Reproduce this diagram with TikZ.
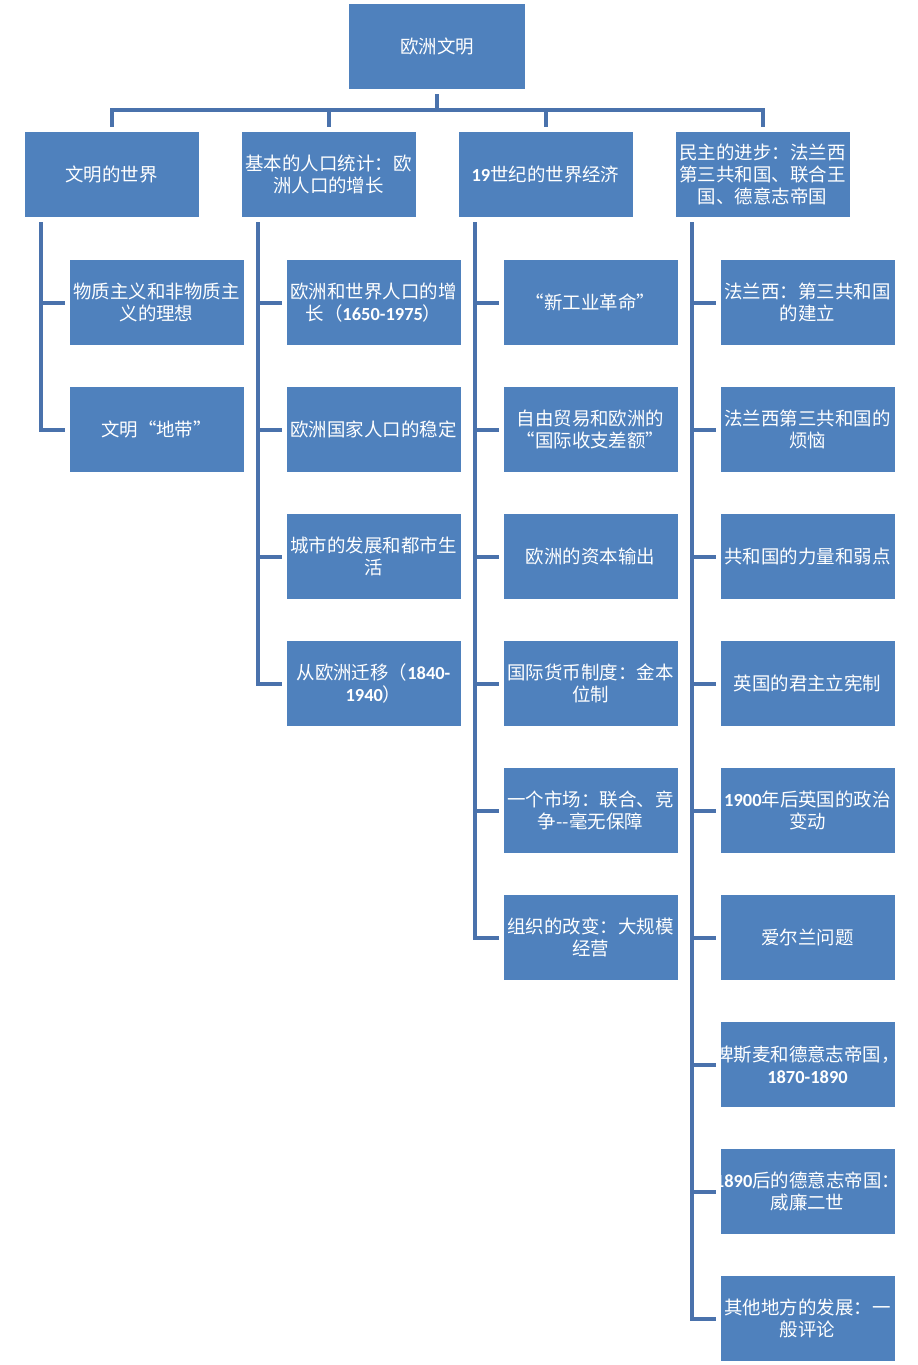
\documentclass[tikz,border=0pt]{standalone}
\usepackage{fontspec}
\setmainfont{Noto Sans CJK SC}
\newfontfamily\numfont{Carlito}
\usetikzlibrary{positioning}
\definecolor{BoxBlue}{HTML}{4F81BD}
\definecolor{LineBlue}{HTML}{4A72AC}
\newcommand{\yr}[1]{{\numfont\bfseries #1}}
\tikzset{
  topic/.style={
    fill=BoxBlue, text=white, inner sep=0pt, outer sep=0pt,
    minimum width=3.48cm, minimum height=1.7cm,
    text width=3.4cm, align=center,
    font=\fontsize{10.5pt}{12.5pt}\selectfont
  },
  link/.style={draw=LineBlue, line width=0.08cm, shorten <=0.1cm, shorten >=0.1cm}
}
\begin{document}
\begin{tikzpicture}[node distance=0.84cm]
  \useasboundingbox (0,0) rectangle (18.36,-27.3);
  \node[topic,minimum width=3.52cm] (root) at (8.74,-0.93) {欧洲文明};
  % first level
  \node[topic,below=0.86cm of root,xshift=-2.17cm] (p) {基本的人口统计：欧\\洲人口的增长};
  \node[topic,left=0.86cm of p] (w) {文明的世界};
  \node[topic,right=0.86cm of p] (e) {\yr{19}世纪的世界经济};
  \node[topic,right=0.86cm of e] (d) {民主的进步：法兰西\\第三共和国、联合王\\国、德意志帝国};
  \draw[link] (root.south) -- ++(0,-0.42) -| (w.north);
  \draw[link] (root.south) -- ++(0,-0.42) -| (p.north);
  \draw[link] (root.south) -- ++(0,-0.42) -| (e.north);
  \draw[link] (root.south) -- ++(0,-0.42) -| (d.north);
  % world
  \node[topic,below=0.86cm of w,xshift=0.9cm] (w1) {物质主义和非物质主\\义的理想};
  \node[topic,below=of w1] (w2) {文明“地带”};
  \draw[link] ([xshift=0.32cm]w.south west) |- (w1.west);
  \draw[link] ([xshift=0.32cm]w.south west) |- (w2.west);
  % population
  \node[topic,below=0.86cm of p,xshift=0.9cm] (p1) {欧洲和世界人口的增\\长（\yr{1650-1975}）};
  \node[topic,below=of p1] (p2) {欧洲国家人口的稳定};
  \node[topic,below=of p2] (p3) {城市的发展和都市生\\活};
  \node[topic,below=of p3] (p4) {从欧洲迁移（\yr{1840-}\\\yr{1940}）};
  \draw[link] ([xshift=0.32cm]p.south west) |- (p1.west);
  \draw[link] ([xshift=0.32cm]p.south west) |- (p2.west);
  \draw[link] ([xshift=0.32cm]p.south west) |- (p3.west);
  \draw[link] ([xshift=0.32cm]p.south west) |- (p4.west);
  % economy
  \node[topic,below=0.86cm of e,xshift=0.9cm] (e1) {“新工业革命”};
  \node[topic,below=of e1] (e2) {自由贸易和欧洲的\\“国际收支差额”};
  \node[topic,below=of e2] (e3) {欧洲的资本输出};
  \node[topic,below=of e3] (e4) {国际货币制度：金本\\位制};
  \node[topic,below=of e4] (e5) {一个市场：联合、竞\\争-{}-毫无保障};
  \node[topic,below=of e5] (e6) {组织的改变：大规模\\经营};
  \draw[link] ([xshift=0.32cm]e.south west) |- (e1.west);
  \draw[link] ([xshift=0.32cm]e.south west) |- (e2.west);
  \draw[link] ([xshift=0.32cm]e.south west) |- (e3.west);
  \draw[link] ([xshift=0.32cm]e.south west) |- (e4.west);
  \draw[link] ([xshift=0.32cm]e.south west) |- (e5.west);
  \draw[link] ([xshift=0.32cm]e.south west) |- (e6.west);
  % democracy
  \node[topic,below=0.86cm of d,xshift=0.9cm] (d1) {法兰西：第三共和国\\的建立};
  \node[topic,below=of d1] (d2) {法兰西第三共和国的\\烦恼};
  \node[topic,below=of d2] (d3) {共和国的力量和弱点};
  \node[topic,below=of d3] (d4) {英国的君主立宪制};
  \node[topic,below=of d4] (d5) {\yr{1900}年后英国的政治\\变动};
  \node[topic,below=of d5] (d6) {爱尔兰问题};
  \node[topic,below=of d6] (d7) {\makebox[\linewidth]{俾斯麦和德意志帝国，}\\\yr{1870-1890}};
  \node[topic,below=of d7] (d8) {\makebox[\linewidth]{\yr{1890}后的德意志帝国：}\\威廉二世};
  \node[topic,below=of d8] (d9) {其他地方的发展：一\\般评论};
  \draw[link] ([xshift=0.32cm]d.south west) |- (d1.west);
  \draw[link] ([xshift=0.32cm]d.south west) |- (d2.west);
  \draw[link] ([xshift=0.32cm]d.south west) |- (d3.west);
  \draw[link] ([xshift=0.32cm]d.south west) |- (d4.west);
  \draw[link] ([xshift=0.32cm]d.south west) |- (d5.west);
  \draw[link] ([xshift=0.32cm]d.south west) |- (d6.west);
  \draw[link] ([xshift=0.32cm]d.south west) |- (d7.west);
  \draw[link] ([xshift=0.32cm]d.south west) |- (d8.west);
  \draw[link] ([xshift=0.32cm]d.south west) |- (d9.west);
\end{tikzpicture}
\end{document}
